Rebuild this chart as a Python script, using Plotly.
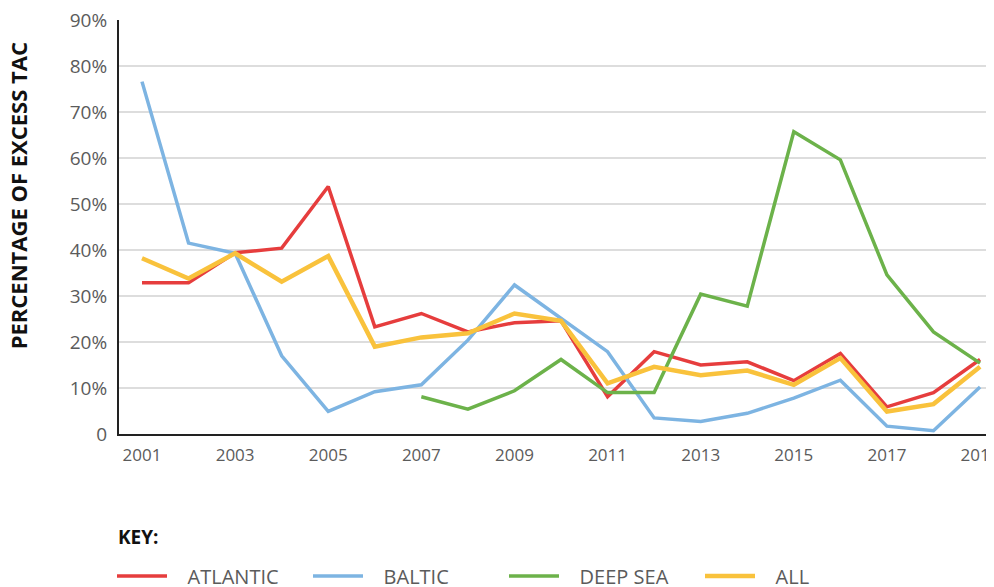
import plotly.graph_objects as go

years = list(range(2001, 2020))
atlantic = [32.9, 32.9, 39.4, 40.4, 53.8, 23.3, 26.2, 22.2, 24.2, 24.6, 8.1, 17.9, 15.0, 15.7, 11.6, 17.5, 5.9, 9.0, 16.2]
baltic = [76.6, 41.5, 39.3, 17.0, 4.9, 9.2, 10.7, 20.4, 32.4, 25.2, 17.9, 3.5, 2.7, 4.5, 7.8, 11.7, 1.7, 0.7, 10.2]
deep_years = list(range(2007, 2020))
deep_sea = [8.1, 5.4, 9.4, 16.2, 9.0, 9.0, 30.4, 27.8, 65.7, 59.6, 34.6, 22.2, 15.4]
all_sea = [38.2, 33.8, 39.3, 33.1, 38.7, 19.0, 21.0, 21.9, 26.2, 24.6, 11.0, 14.6, 12.8, 13.8, 10.7, 16.5, 4.9, 6.5, 14.6]

series_names = ["ATLANTIC", "BALTIC", "DEEP SEA", "ALL"]
x_ticks = [2001, 2003, 2005, 2007, 2009, 2011, 2013, 2015, 2017, 2019]
y_ticks = [0, 10, 20, 30, 40, 50, 60, 70, 80, 90]
y_labels = ["0", "10%", "20%", "30%", "40%", "50%", "60%", "70%", "80%", "90%"]

pad = "\u00a0\u00a0\u00a0"

fig = go.Figure()
fig.add_trace(go.Scatter(x=years, y=atlantic, mode="lines", name=pad + series_names[0],
                         line=dict(color="#e63d3d", width=3.5)))
fig.add_trace(go.Scatter(x=years, y=baltic, mode="lines", name=pad + series_names[1],
                         line=dict(color="#7db4e2", width=3.5)))
fig.add_trace(go.Scatter(x=deep_years, y=deep_sea, mode="lines", name=pad + series_names[2],
                         line=dict(color="#6cb24a", width=3.5)))
fig.add_trace(go.Scatter(x=years, y=all_sea, mode="lines", name=pad + series_names[3],
                         line=dict(color="#f9c23c", width=4.5)))

font_family = "'Open Sans', Lato, sans-serif"
tick_color = "#5b5b5b"

fig.update_layout(
    width=986, height=600,
    margin=dict(l=111, r=0, t=12, b=174, autoexpand=False),
    paper_bgcolor="white", plot_bgcolor="white",
    font=dict(family=font_family, color=tick_color, size=15),
    xaxis=dict(range=[2000.506, 2019.3], tickvals=x_ticks, ticktext=[str(v) for v in x_ticks],
               showgrid=False, zeroline=False, showline=True, linecolor="#222222", linewidth=2,
               ticks="", ticklabelstandoff=5, ticklabeloverflow="allow",
               tickfont=dict(size=17, color=tick_color)),
    yaxis=dict(range=[0, 90], tickvals=y_ticks, ticktext=y_labels,
               showgrid=True, gridcolor="#dddddd", gridwidth=1.5, zeroline=False,
               showline=True, linecolor="#222222", linewidth=2,
               ticks="", ticklabelstandoff=6, ticklabeloverflow="allow",
               tickfont=dict(size=19, color=tick_color)),
    showlegend=True,
    legend=dict(orientation="h", x=-0.008, y=-0.343, xanchor="left", yanchor="middle",
                font=dict(size=20, color=tick_color),
                itemwidth=50, entrywidth=131, entrywidthmode="pixels", tracegroupgap=0),
    annotations=[
        dict(text="<b>PERCENTAGE OF EXCESS TAC</b>", textangle=-90,
             xref="paper", yref="paper", x=-0.115, y=0.575,
             xanchor="center", yanchor="middle", showarrow=False,
             font=dict(size=22, color="#111111", family=font_family)),
        dict(text="<b>KEY:</b>", xref="paper", yref="paper", x=-0.003, y=-0.249,
             xanchor="left", yanchor="middle", showarrow=False,
             font=dict(size=19, color="#111111", family=font_family)),
    ],
)

fig.write_html("out.html")
